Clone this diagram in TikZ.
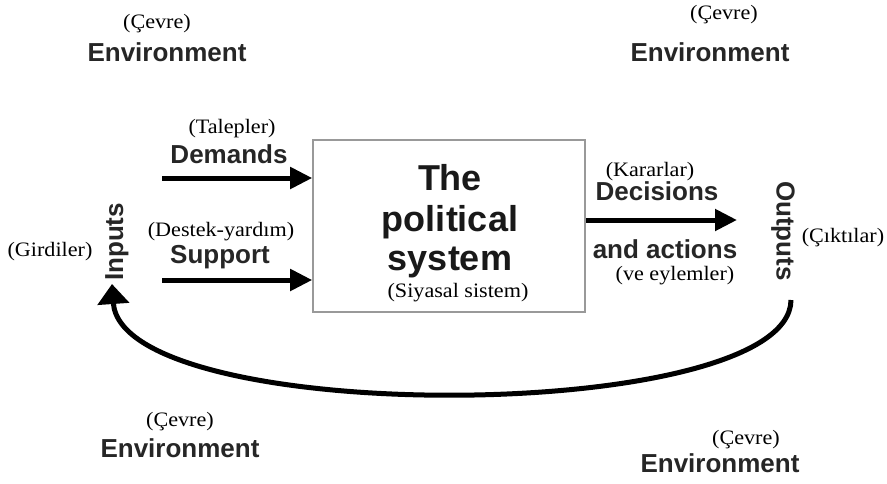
\documentclass[tikz,border=0pt]{standalone}
\usepackage{fontspec}
\setmainfont{Liberation Serif}[FakeStretch=1.08]
\newfontfamily\lsans{Liberation Sans}
\usetikzlibrary{arrows.meta}
\tikzset{
  tr/.style={font=\fontsize{20.5}{22}\selectfont, inner sep=0pt, text=black},
  lab/.style={font=\lsans\bfseries\fontsize{26}{28}\selectfont, inner sep=0pt, text=black!85},
  big/.style={font=\lsans\bfseries\fontsize{36}{38}\selectfont, inner sep=0pt, text=black!90, anchor=base},
  flow/.style={line width=5pt, -{Triangle[length=22pt,width=21pt]}},
  sysbox/.style={draw=black!40, line width=1.6pt, minimum width=272pt, minimum height=172pt, inner sep=0pt}
}
\begin{document}
\begin{tikzpicture}[x=1pt,y=-1pt]
\useasboundingbox (0,0) rectangle (887,483);
\fill[white] (0,0) rectangle (887,483);

% environment labels
\node[tr] (c1) at (157,24) {(Çevre)};
\node[lab] (e1) at (167,52) {Environment};
\node[tr] (c2) at (724,15) {(Çevre)};
\node[lab] (e2) at (710,52) {Environment};
\node[tr] (c3) at (180,422) {(Çevre)};
\node[lab] (e3) at (180,448) {Environment};
\node[tr] (c4) at (746,440) {(Çevre)};
\node[lab] (e4) at (720,463) {Environment};

% system box
\node[sysbox] (box) at (449,226) {};
\node[big] (t1) at (450,190) {The};
\node[big] (t2) at (450,231) {political};
\node[big] (t3) at (450,270) {system};
\node[tr] (t4) at (458,293) {(Siyasal sistem)};

% inputs
\node[tr] (tal) at (232,129) {(Talepler)};
\node[lab] (dem) at (229,154) {Demands};
\node[tr] (des) at (221,232) {(Destek-yardım)};
\node[lab] (sup) at (220,257) {Support};
\coordinate (d0) at (162,178);
\coordinate (s0) at (162,280);
\draw[flow] (d0) -- (box.west |- d0);
\draw[flow] (s0) -- (box.west |- s0);

\node[lab, rotate=90] (inp) at (117,242) {Inputs};
\node[tr] (gir) at (50,252) {(Girdiler)};

% outputs
\node[tr] (kar) at (650,172) {(Kararlar)};
\node[lab] (dec) at (657,191) {Decisions};
\node[lab] (act) at (665,249) {and actions};
\node[tr] (vee) at (675,276) {(ve eylemler)};
\coordinate (o1) at (737,220);
\draw[flow] (box.east |- o1) -- (o1);

\node[lab, rotate=-90] (out) at (783,231) {Outputs};
\node[tr] (cik) at (843,238) {(Çıktılar)};

% feedback loop
\coordinate (fb0) at (791,300);
\coordinate (fb1) at (112,284);
\draw[line width=5pt, -{Triangle[length=20pt,width=31pt]}]
  (fb0) .. controls (790,425) and (122,428) .. (fb1);
\end{tikzpicture}
\end{document}
